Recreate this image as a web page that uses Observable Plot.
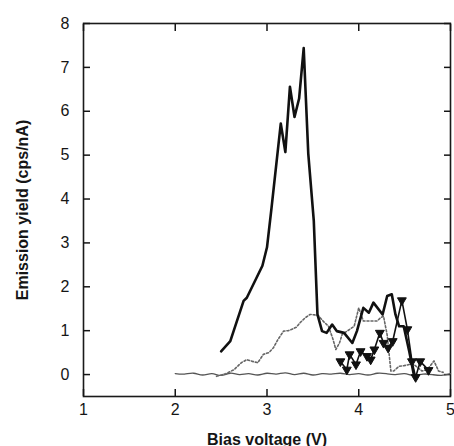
<!DOCTYPE html>
<html><head><meta charset="utf-8">
<script src="https://cdn.jsdelivr.net/npm/d3@7"></script>
<script src="https://cdn.jsdelivr.net/npm/@observablehq/plot@0.6"></script>
<style>
body{margin:0;background:#fff}
svg g[aria-label="y-axis label"] text, svg g[aria-label="x-axis label"] text{font-weight:bold}
</style></head><body><div id="chart"></div>
<script>
const xTicks = [1, 2, 3, 4, 5];
const yTicks = [0, 1, 2, 3, 4, 5, 6, 7, 8];

const mainX = [2.50,2.60,2.745,2.78,2.95,3.00,3.05,3.15,3.20,3.25,3.30,3.35,3.40,3.45,3.51,3.55,3.60,3.65,3.71,3.76,3.84,3.93,3.98,4.05,4.11,4.16,4.26,4.31,4.36,4.40,4.44,4.49,4.55,4.60];
const mainY = [0.53,0.76,1.68,1.75,2.48,2.90,3.81,5.72,5.07,6.56,5.87,6.29,7.44,5.03,3.50,1.37,0.99,0.95,1.14,0.99,0.95,0.72,0.99,1.52,1.41,1.64,1.37,1.79,1.83,1.37,1.10,1.10,0.53,0.00];

const dotX = [2.45,2.55,2.64,2.72,2.78,2.84,2.90,2.96,3.02,3.07,3.12,3.18,3.23,3.27,3.32,3.36,3.42,3.47,3.52,3.56,3.62,3.67,3.72,3.75,3.79,3.82,3.88,3.95,4.00,4.05,4.12,4.20,4.24,4.27,4.31,4.35,4.38,4.44,4.49,4.55,4.60,4.65,4.69,4.75,4.82,4.87,4.92];
const dotY = [-0.04,0.02,0.11,0.27,0.34,0.30,0.27,0.46,0.50,0.61,0.80,0.99,1.00,1.03,1.08,1.18,1.30,1.37,1.36,1.34,1.20,1.10,0.80,0.57,0.72,0.92,1.00,1.10,1.52,1.22,1.22,1.22,1.30,1.33,0.90,0.08,0.08,0.19,0.20,0.23,0.23,0.15,0.08,0.12,0.31,0.08,0.05];

const triX = [3.80,3.87,3.90,3.97,4.02,4.09,4.13,4.17,4.23,4.27,4.32,4.37,4.47,4.53,4.58,4.62,4.67,4.76];
const triY = [0.30,0.11,0.46,0.23,0.53,0.42,0.34,0.57,0.95,0.72,0.61,0.76,1.69,1.03,0.30,-0.06,0.30,0.10];

const baseX = [2.00,2.10,2.20,2.30,2.40,2.50,2.60,2.70,2.80,2.90,3.00,3.10,3.20,3.30,3.40,3.50,3.60,3.70,3.80,3.90,4.00,4.10,4.20,4.30,4.40,4.50,4.60,4.70,4.80,4.90,5.00];
const baseY = [0.02,0.01,0.03,-0.01,0.02,-0.02,0.03,0.00,0.02,-0.01,0.03,0.01,0.04,0.00,0.03,-0.01,0.02,0.01,0.03,0.00,0.02,-0.01,0.03,0.02,0.00,0.02,-0.02,0.01,0.00,-0.02,0.02];

const zip = (xs, ys) => xs.map((x, i) => ({x, y: ys[i]}));
const main = zip(mainX, mainY), dotted = zip(dotX, dotY), tri = zip(triX, triY), base = zip(baseX, baseY);

const downTriangle = {
  draw(context, size) {
    const s = Math.sqrt(size) * 1.25, h = s * 0.866;
    context.moveTo(-s / 2, -h / 3);
    context.lineTo(s / 2, -h / 3);
    context.lineTo(0, 2 * h / 3);
    context.closePath();
  }
};

const chart = Plot.plot({
  width: 454,
  height: 446,
  marginLeft: 83,
  marginRight: 4,
  marginTop: 23,
  marginBottom: 50,
  style: {fontFamily: "'Liberation Sans', Arial, Helvetica, sans-serif", fontSize: "16px", color: "#151515", background: "#fff"},
  x: {domain: [1, 5]},
  y: {domain: [-0.5, 8]},
  marks: [
    Plot.frame({stroke: "#1a1a1a", strokeWidth: 1.6}),
    Plot.axisY({anchor: "left", ticks: yTicks, tickSize: -7, tickPadding: 21, strokeWidth: 1.5, tickFormat: d3.format("d"),
      label: "Emission yield (cps/nA)", labelAnchor: "center", labelOffset: 67, labelArrow: "none"}),
    Plot.axisY({anchor: "right", ticks: yTicks, tickSize: -7, strokeWidth: 1.5, tickFormat: () => "", label: null}),
    Plot.axisX({anchor: "bottom", ticks: xTicks, tickSize: -7, tickPadding: 14, strokeWidth: 1.5, tickFormat: d3.format("d"),
      label: "Bias voltage (V)", labelAnchor: "center", labelOffset: 48, labelArrow: "none"}),
    Plot.axisX({anchor: "top", ticks: xTicks, tickSize: -7, strokeWidth: 1.5, tickFormat: () => "", label: null}),
    Plot.line(base, {x: "x", y: "y", stroke: "#555", strokeWidth: 1.3, curve: "natural"}),
    Plot.line(dotted, {x: "x", y: "y", stroke: "#666", strokeWidth: 1.6, strokeDasharray: "2,2"}),
    Plot.line(tri, {x: "x", y: "y", stroke: "#111", strokeWidth: 1.6}),
    Plot.dot(tri, {x: "x", y: "y", symbol: downTriangle, r: 4, fill: "#111", stroke: "#111", strokeWidth: 1}),
    Plot.line(main, {x: "x", y: "y", stroke: "#111", strokeWidth: 2.6})
  ]
});
document.getElementById("chart").append(chart);
</script></body></html>
